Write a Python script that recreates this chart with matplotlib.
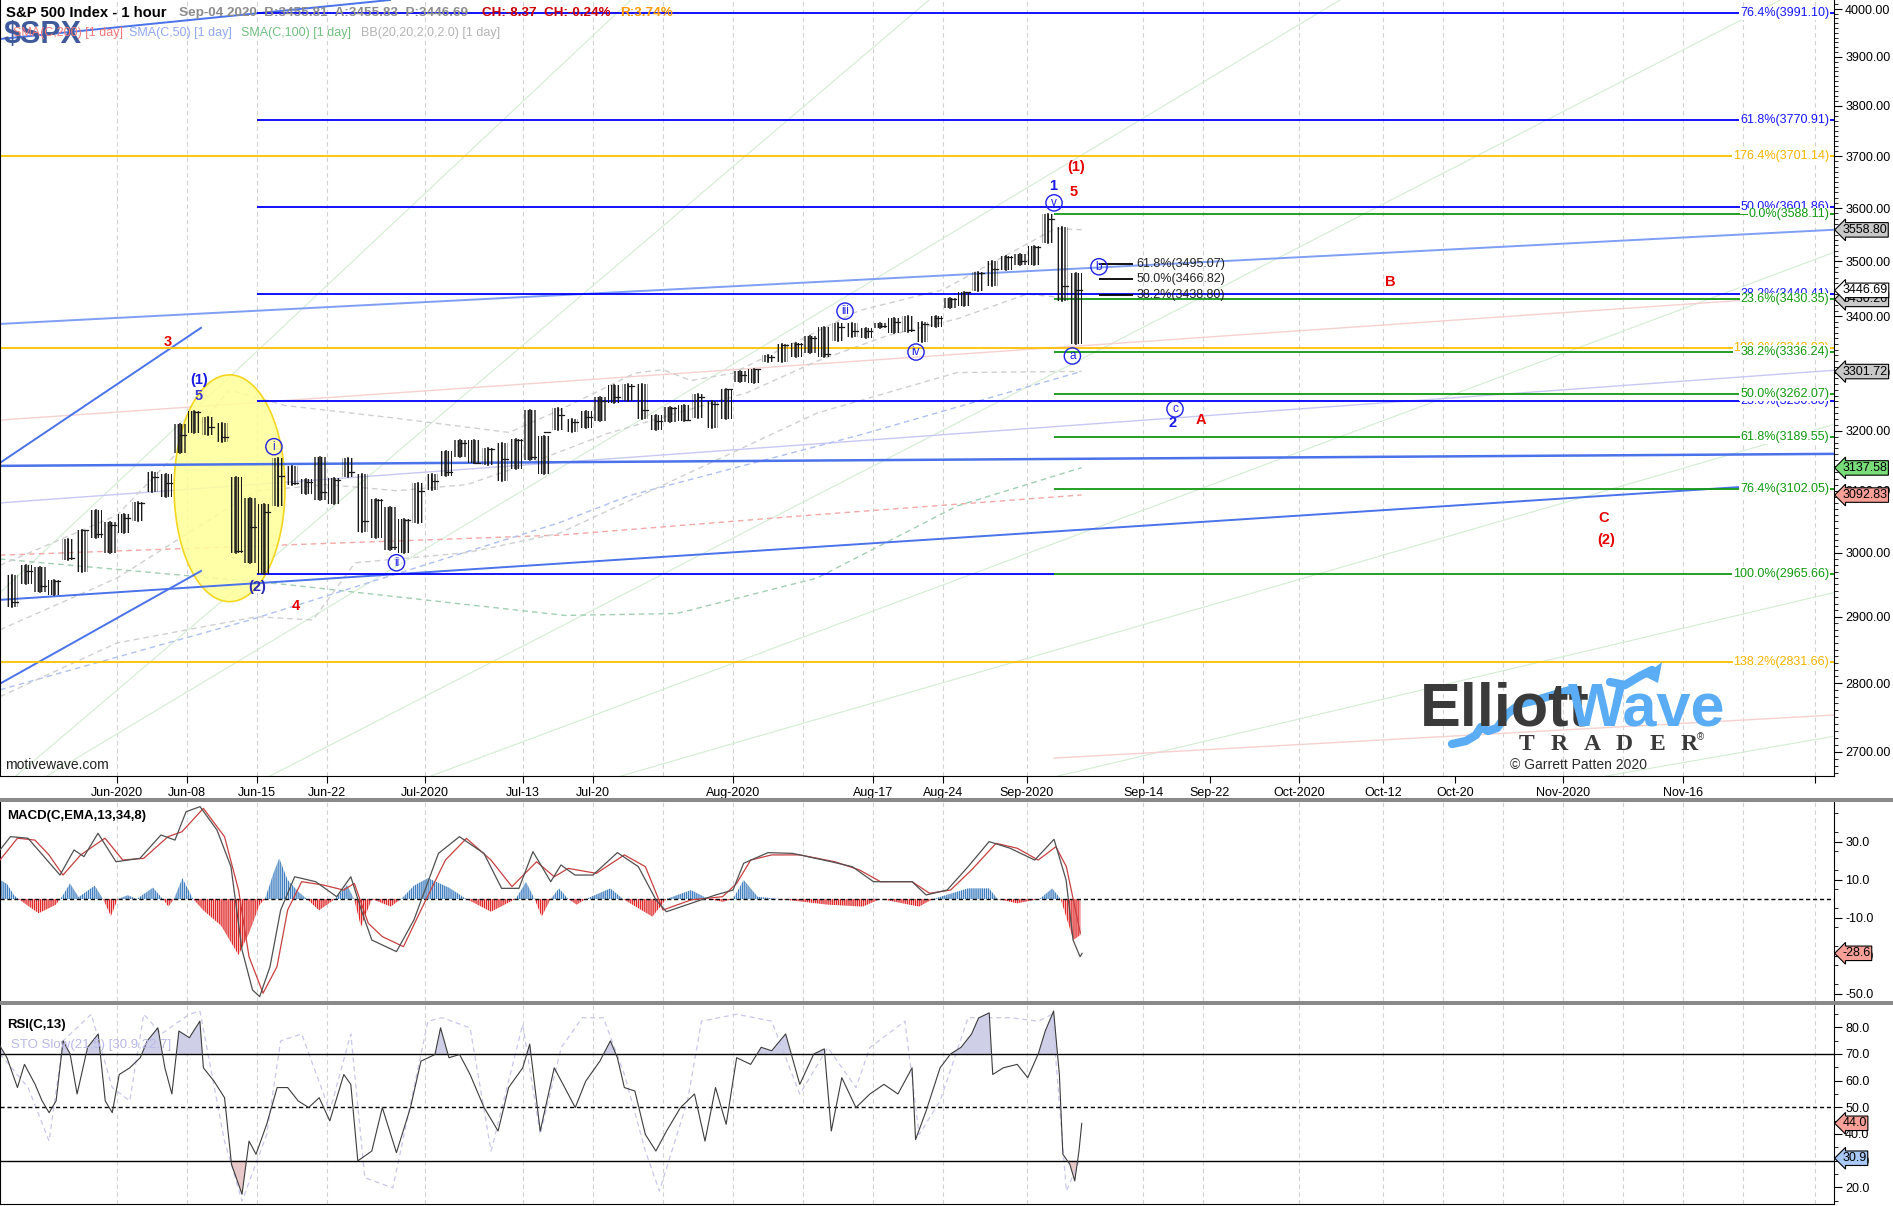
import numpy as np
import matplotlib
matplotlib.use("Agg")
import matplotlib.pyplot as plt
from matplotlib.transforms import blended_transform_factory
from matplotlib.ticker import FixedLocator, FixedFormatter
from matplotlib.patches import Rectangle
from matplotlib.lines import Line2D

plt.rcParams['font.family'] = ['Liberation Sans', 'DejaVu Sans']
plt.rcParams['hatch.linewidth'] = 1.0

W, H = 1893, 1206

# ---------------- price data (daily H/L/C, day index 0 = Jun 1 2020) ----------------
day = np.arange(-8, 69)
high = [2965, 2980, 2978, 2957, 3021, 3036, 3068, 3049,
        3062, 3081, 3130, 3128, 3211, 3233, 3223, 3213, 3123, 3088, 3079, 3154, 3141, 3120, 3156,
        3121, 3154, 3128, 3086, 3073, 3054, 3112, 3128, 3165, 3184, 3185, 3170, 3180, 3186, 3235,
        3191, 3238, 3220, 3233, 3258, 3278, 3280, 3280, 3227, 3241, 3243, 3262, 3251, 3272,
        3302, 3307, 3331, 3351, 3352, 3364, 3381, 3387, 3387, 3378, 3387, 3396, 3400, 3390, 3400,
        3432, 3444, 3481, 3501, 3510, 3514, 3528, 3588, 3564, 3479]
low = [2915, 2950, 2938, 2933, 2988, 2969, 3023, 2999,
       3031, 3051, 3098, 3090, 3163, 3196, 3193, 3181, 2999, 2984, 2966, 3075, 3109, 3094, 3084,
       3078, 3123, 3033, 3024, 3004, 3000, 3048, 3101, 3124, 3155, 3145, 3142, 3116, 3136, 3150,
       3127, 3201, 3198, 3205, 3216, 3247, 3250, 3220, 3201, 3214, 3217, 3222, 3205, 3220,
       3284, 3282, 3318, 3318, 3328, 3335, 3327, 3355, 3363, 3361, 3379, 3370, 3371, 3354, 3380,
       3414, 3419, 3445, 3454, 3484, 3494, 3494, 3535, 3427, 3350]
close = [2922, 2971, 2948, 2955, 2991, 3036, 3029, 3044,
         3055, 3080, 3122, 3112, 3193, 3232, 3207, 3190, 3002, 3041, 3066, 3125, 3113, 3115, 3098,
         3118, 3131, 3050, 3084, 3009, 3053, 3100, 3116, 3130, 3180, 3145, 3169, 3152, 3185, 3155,
         3197, 3227, 3215, 3224, 3251, 3257, 3276, 3236, 3216, 3239, 3218, 3258, 3246, 3271,
         3295, 3306, 3327, 3349, 3351, 3360, 3333, 3380, 3373, 3373, 3382, 3390, 3375, 3385, 3397,
         3431, 3443, 3479, 3485, 3508, 3500, 3527, 3580, 3455, 3447]

# moving averages / bands (day index, price)
sma200_t = [-8.36, 11.6, 31.6, 50, 68.9]
sma200_v = [2996, 3012, 3028, 3061, 3093]
sma100_t = [-8.36, 12, 32, 40, 50, 60, 68.9]
sma100_v = [2990, 2950, 2902, 2905, 2960, 3075, 3138]
sma50_t = [-8.36, 9.5, 31.6, 36.6, 53.1, 68.9]
sma50_v = [2790, 2895, 3048, 3092, 3193, 3302]
bbu_t = [-8.36, 0, 5, 8, 12, 20, 28, 31.6, 37, 39, 41, 44, 53, 59, 67, 68.9]
bbu_v = [2980, 3060, 3180, 3270, 3243, 3221, 3197, 3235, 3299, 3305, 3286, 3299, 3410, 3448, 3561, 3559]
bbm_t = [-8.36, 0, 5, 10, 15, 20, 25, 30, 35, 40, 45, 50, 55, 60, 65, 68.9]
bbm_v = [2880, 2960, 3030, 3100, 3110, 3100, 3110, 3150, 3195, 3230, 3265, 3320, 3365, 3395, 3440, 3430]
bbl_t = [-8.36, 0, 5, 10, 14, 17, 25, 31.6, 40, 50, 60, 68.9]
bbl_v = [2780, 2860, 2880, 2900, 2895, 2984, 3000, 3031, 3120, 3230, 3300, 3302]

# ---------------- MACD ----------------
macd_t = [-8.36, -7.61, -6.36, -4.07, -3.07, -2.36, -1.36, -0.07, 1.64, 3.14, 4.14, 4.93, 5.93, 7.14,
          8.14, 8.93, 9.68, 10.19, 10.93, 11.69, 12.69, 14.19, 15.69, 16.7, 17.45, 18.2, 19.96, 21.21,
          22.96, 24.46, 26.21, 27.47, 28.71, 29.71, 30.98, 31.71, 32.71, 33.99, 35.74, 37.24, 38.5,
          39.24, 41.0, 42.75, 44.0, 44.76, 46.5, 48.26, 51.02, 52.52, 54.03, 56.79, 57.79, 59.29,
          60.79, 62.29, 63.79, 65.55, 66.93, 67.79, 68.29, 68.79, 68.93]
macd_v = [25.8, 32.8, 32, 12.6, 25.8, 22.3, 34.6, 19.6, 21.4, 33.7, 31, 45.9, 48.6, 36.3, 17, -26.8,
          -47.9, -51.4, -35.6, -5.8, 11.7, 9.1, 1.2, 11.7, -5.8, -21.6, -27.7, -11, 24, 32.8, 24, 5.6,
          5.6, 24.9, 9.1, 17.9, 12.6, 12.6, 24.4, 17, -0.5, -6.7, -2.3, 2.1, 4.7, 18.8, 24.4, 24, 19.6,
          17, 9.1, 9.1, 2.1, 4.7, 17, 30.2, 26.7, 20.5, 31.4, 10, -21.6, -30.4, -28.6]
sig_t = [-8.36, -7.11, -5.86, -4.86, -3.86, -2.59, -0.86, 0.41, 1.91, 3.64, 4.64, 6.17, 7.68, 8.68,
         9.43, 10.43, 11.43, 12.19, 13.19, 14.69, 16.19, 16.95, 17.95, 18.95, 20.46, 21.71, 23.46,
         24.96, 26.71, 28.21, 29.97, 31.23, 32.23, 34.24, 36.24, 37.74, 39.0, 41.0, 43.25, 44.26,
         45.26, 46.76, 48.79, 51.27, 53.03, 54.53, 56.79, 58.04, 59.54, 61.04, 62.79, 64.3, 65.8,
         67.06, 67.81, 68.31, 68.81]
sig_v = [20.5, 32, 31, 23.2, 12.6, 23.2, 32, 20.5, 21.4, 32.8, 35.4, 47.7, 32.8, 4.7, -30.4, -49.6,
         -35.6, -5.8, 9.1, 7.4, 4.7, 8.2, -12.8, -19.8, -25.1, -5.8, 20.5, 31.9, 20.5, 6.5, 19.6, 11.7,
         16.1, 13.5, 23.2, 17, -5.8, -0.5, 1.2, 8.2, 20.5, 23.2, 23.2, 19.6, 15.3, 9.1, 9.1, 3, 4.7,
         15.3, 29.3, 26.7, 20.5, 27.5, 17, -0.5, -18]
hist_t = [-8.36, -7.86, -7.36, -6.86, -5.6, -4.36, -3.86, -3.36, -2.74, -2.36, -1.59, -1.0, -0.44,
          0.06, 0.76, 1.41, 2.57, 3.27, 3.67, 4.07, 4.67, 5.43, 6.17, 7.43, 8.68, 9.43, 10.19, 10.57,
          11.19, 11.59, 12.19, 12.93, 13.57, 14.43, 15.57, 16.43, 16.93, 17.43, 18.2, 19.55, 20.3,
          21.21, 22.21, 23.71, 24.96, 26.71, 28.47, 29.21, 29.83, 30.33, 30.98, 31.57, 32.23, 32.83,
          33.49, 35.24, 36.14, 38.24, 39.24, 41.0, 42.25, 43.26, 44.0, 44.76, 45.76, 47.26, 50.77,
          53.27, 54.53, 57.29, 58.29, 60.79, 62.29, 62.89, 64.3, 65.9, 66.8, 67.4, 68.31, 68.81]
hist_v = [10, 8, 2, -1, -7.5, -3, 2, 8.2, 1, 3, 7, 0, -9, 0, 2, 0, 6, 0, -4, 0, 11, 0, -6, -14, -29.5,
          -18, -3, 0, 14, 21.4, 10, 4, 0, -6, 0, 7.4, 0, -14.6, 0, -4, 0, 7, 11, 6, 0, -6.7, 0, 9, 0,
          -9.3, 0, 5.6, 0, -3, 0, 5.6, 0, -9.3, 0, 4.7, 0, -1.5, 0, 10, 1.2, 0, -3, -4, 0, -4, 0, 5.6,
          5.6, 0, -2.3, 0, 5.6, 0, -21.6, -19]

# ---------------- RSI / Stochastic ----------------
rsi_t = [-8.36, -7.86, -7.11, -6.61, -5.85, -5.35, -4.85, -4.35, -3.85, -3.35, -2.85, -2.10, -1.34,
         -0.84, -0.34, 0.16, 0.91, 1.66, 2.16, 2.92, 3.42, 3.92, 4.42, 5.17, 5.92, 6.17, 6.93, 7.68,
         8.18, 8.93, 9.43, 9.93, 10.69, 11.44, 12.19, 12.94, 13.69, 14.44, 15.20, 16.20, 16.70, 17.20,
         18.20, 18.95, 19.96, 20.96, 21.71, 22.71, 23.11, 23.71, 24.47, 25.22, 26.22, 27.22, 27.97,
         28.98, 29.48, 30.23, 31.23, 31.98, 32.73, 33.48, 34.49, 35.24, 35.74, 36.24, 36.99, 37.74,
         38.49, 39.25, 40.25, 41.25, 42.00, 42.75, 43.51, 44.26, 45.26, 46.01, 46.76, 47.76, 48.77,
         49.77, 50.52, 51.02, 51.77, 52.78, 53.78, 54.78, 55.78, 56.79, 57.04, 57.79, 58.79, 59.54,
         60.29, 61.04, 61.54, 62.30, 62.55, 63.30, 64.30, 65.05, 65.80, 66.30, 66.90, 67.31, 67.56,
         68.06, 68.41, 68.71, 68.91]
rsi_v = [73, 68.6, 57.4, 66.1, 58.6, 52.4, 48, 52.4, 74.9, 70, 55, 72.5, 77.5, 52.4, 48, 62.3, 64.8,
         68.6, 74.9, 79.8, 64.8, 55, 78.6, 76.1, 82.3, 64.8, 59.8, 53.6, 28.6, 17.4, 37.3, 32.4, 43.6,
         57.4, 57.4, 52.4, 49.9, 53.6, 44.9, 62.3, 58.6, 29.9, 33.6, 49.9, 33, 49.9, 67.3, 69.8, 79.8,
         68.6, 69.8, 62.3, 49.9, 41.1, 57.4, 64.8, 73.7, 41.1, 64.8, 57.4, 49.9, 59.8, 67.3, 74.9, 68.6,
         57.4, 56.1, 39.8, 33.6, 41.1, 49.9, 55, 37.3, 57.4, 43.6, 68.6, 66.1, 72.5, 71.2, 77.5, 58.6,
         70, 71.9, 41.1, 61.1, 49.9, 55, 58.6, 55, 64.8, 37.9, 48.6, 64.8, 70, 72.5, 77.5, 83.5, 85.4,
         62.3, 64.8, 66.1, 61.1, 70, 78.6, 86.1, 62.3, 32.4, 28.6, 22.4, 33.6, 44]
sto_t = [-8.36, -6.35, -4.85, -3.85, -1.84, -0.34, 0.91, 1.91, 3.17, 5.17, 5.92, 7.68, 8.93, 10.69,
         11.69, 13.19, 15.20, 16.70, 17.70, 19.70, 20.71, 22.21, 23.21, 25.22, 26.72, 28.98, 30.23,
         31.73, 33.23, 34.74, 36.24, 37.74, 38.74, 40.75, 41.75, 44.26, 46.76, 48.77, 50.77, 52.78,
         53.78, 56.28, 57.29, 58.79, 60.79, 63.80, 65.80, 66.80, 67.81, 68.81]
sto_v = [70, 57.4, 37.3, 74.9, 84.9, 57.4, 52.4, 84.9, 77.5, 84.9, 86.1, 37.3, 14.8, 39.8, 74.9, 77.5,
         48.6, 77.5, 23.6, 19.8, 44.9, 82.3, 83.6, 79.8, 33.6, 81.1, 39.8, 72.4, 83.6, 83.6, 62.3, 33.6,
         18.6, 52.4, 82.3, 84.9, 82.3, 54.9, 72.4, 57.4, 72.4, 82.3, 39.8, 52.4, 83.6, 83.6, 82.3, 84.9,
         18.6, 30.9]

# ---------------- axis ticks ----------------
tick_pos = [0, 5, 10, 15, 22, 29, 34, 44, 54, 59, 65, 73.29, 78.07, 84.43, 90.43, 95.57, 103.29,
            111.86, 121.29]
tick_lab = ['Jun-2020', 'Jun-08', 'Jun-15', 'Jun-22', 'Jul-2020', 'Jul-13', 'Jul-20', 'Aug-2020',
            'Aug-17', 'Aug-24', 'Sep-2020', 'Sep-14', 'Sep-22', 'Oct-2020', 'Oct-12', 'Oct-20',
            'Nov-2020', 'Nov-16', '']
grid_pos = [0, 5, 10, 15, 22, 29, 34, 39, 44, 49, 54, 59, 65, 73.29, 77.57, 84.43, 90.43, 94.71,
            99.0, 103.29, 107.57, 111.86, 116.14, 121.29]
XMIN, XMAX = -8.357, 122.64

# ---------------- fibonacci levels ----------------
blue_fib_lab = ['76.4%(3991.10)', '61.8%(3770.91)', '50.0%(3601.86)', '38.2%(3440.41)', '23.6%(3250.80)']
blue_fib_val = [3991.10, 3770.91, 3601.86, 3440.41, 3250.80]
orange_fib_lab = ['176.4%(3701.14)', '100.0%(3343.02)', '138.2%(2831.66)']
orange_fib_val = [3701.14, 3343.02, 2831.66]
green_fib_lab = ['0.0%(3588.11)', '23.6%(3430.35)', '38.2%(3336.24)', '50.0%(3262.07)',
                 '61.8%(3189.55)', '76.4%(3102.05)', '100.0%(2965.66)']
green_fib_val = [3588.11, 3430.35, 3336.24, 3262.07, 3189.55, 3102.05, 2965.66]
b_fib_lab = ['61.8%(3495.07)', '50.0%(3466.82)', '38.2%(3438.80)']
b_fib_val = [3495.07, 3466.82, 3438.80]

# ---------------- figure ----------------
fig = plt.figure(figsize=(W / 100, H / 100), dpi=100)


def frac(x0, y0, x1, y1):
    return [x0 / W, 1 - y1 / H, (x1 - x0) / W, (y1 - y0) / H]


ax = fig.add_axes(frac(0, 0, 1834, 776))
axm = fig.add_axes(frac(0, 802, 1834, 1001))
axr = fig.add_axes(frac(0, 1005, 1834, 1204))

for a in (ax, axm, axr):
    a.set_xlim(XMIN, XMAX)
    for g in grid_pos:
        a.axvline(g, color='#d2d2d2', lw=0.8, ls=(0, (4, 3)), zorder=0)
    for s in ('top', 'bottom', 'left', 'right'):
        a.spines[s].set_color('black')
    a.spines['top'].set_visible(False)

# separators
for y0 in (798, 1001):
    fig.patches.append(Rectangle((0, 1 - (y0 + 4) / H), 1, 4 / H, transform=fig.transFigure,
                                 facecolor='#8a8a8a', edgecolor='none', zorder=10))

# ---- main panel ----
ax.set_yscale('log')
ax.set_ylim(2665.6, 4019.1)
majors = list(range(2700, 4001, 100))
ax.yaxis.set_major_locator(FixedLocator(majors))
ax.yaxis.set_major_formatter(FixedFormatter(['%.2f' % v for v in majors]))
ax.yaxis.set_minor_locator(FixedLocator([v for v in range(2670, 4020, 10) if v % 100]))
ax.yaxis.set_minor_formatter(FixedFormatter([]))
ax.yaxis.tick_right()
ax.tick_params(axis='y', which='major', direction='out', length=6, labelsize=9, pad=2)
ax.tick_params(axis='y', which='minor', direction='out', length=3)
ax.set_xticks(tick_pos)
ax.set_xticklabels(tick_lab, fontsize=9)
ax.tick_params(axis='x', direction='out', length=5, pad=3)

# faint green fan lines
fan = [((-8.36, 2937), (36.7, 4019.1)), ((-7.21, 2665.6), (58.0, 4019.1)),
       ((-5.0, 2665.6), (87.36, 4019.1)), ((10.93, 2665.6), (118.8, 4019.1)),
       ((22.43, 2665.6), (122.57, 3516)), ((36.0, 2665.6), (122.57, 3210)),
       ((67.21, 2665.6), (122.57, 2937)), ((106.36, 2665.6), (122.57, 2722))]
for (x0, y0), (x1, y1) in fan:
    ax.plot([x0, x1], [y0, y1], color='#d3edd3', lw=0.8, zorder=1)
# faint channel lines
ax.plot([-8.36, 122.64], [3080, 3304], color='#c8c8f2', lw=1.0, zorder=1)
ax.plot([-8.36, 122.64], [3218, 3440], color='#f7d0d0', lw=1.0, zorder=1)
ax.plot([66.93, 122.64], [2691, 2753], color='#f7d0d0', lw=1.0, zorder=1)
# moving averages / bands
ax.plot(sma200_t, sma200_v, color='#f4a8a8', lw=1.0, ls=(0, (4, 3)), zorder=1)
ax.plot(sma100_t, sma100_v, color='#a0d0b4', lw=1.0, ls=(0, (4, 3)), zorder=1)
ax.plot(sma50_t, sma50_v, color='#b0c0f2', lw=1.0, ls=(0, (4, 3)), zorder=1)
for t, v in ((bbu_t, bbu_v), (bbm_t, bbm_v), (bbl_t, bbl_v)):
    ax.plot(t, v, color='#d0d0d0', lw=1.0, ls=(0, (4, 3)), zorder=1)

# blue trend lines
ax.plot([-8.36, 122.64], [3386, 3559], color='#7f9ff5', lw=1.4, zorder=2)
ax.plot([-8.36, 6.0], [3146, 3379], color='#4a72ea', lw=1.4, zorder=2)
ax.plot([-8.36, 6.0], [2799, 2971], color='#4a72ea', lw=1.4, zorder=2)
ax.plot([-8.36, 122.64], [3141, 3161], color='#4a72ea', lw=1.8, zorder=2)
ax.plot([-8.36, 115.9], [2926, 3106], color='#4a72ea', lw=1.4, zorder=2)
ax.plot([-8.36, 19.5], [3937, 4019.1], color='#4a72ea', lw=1.4, zorder=2)

# yellow ellipse around the (1)-(2) area
th = np.linspace(0, 2 * np.pi, 200)
ax.fill(8.04 + 3.96 * np.cos(th), 3104 * np.exp(0.060 * np.sin(th)), facecolor='#ffff99',
        edgecolor='#f2cf00', lw=1.2, alpha=0.85, zorder=1.5)

# fib lines
tb = blended_transform_factory(ax.transAxes, ax.transData)
lab_box = dict(boxstyle='square,pad=0.05', fc='white', ec='none')
for v, lab in zip(blue_fib_val, blue_fib_lab):
    ax.hlines(v, 10, XMAX, color='#0000ff', lw=1.3, zorder=2)
    ax.text(0.9973, v, lab, transform=tb, ha='right', va='center', color='#1515ff', fontsize=9,
            bbox=lab_box, zorder=5)
ax.hlines(2965.66, 10, 66.93, color='#0000ff', lw=1.3, zorder=2)
for v, lab in zip(orange_fib_val, orange_fib_lab):
    ax.hlines(v, XMIN, XMAX, color='#ffc000', lw=1.3, zorder=2)
    ax.text(0.9973, v, lab, transform=tb, ha='right', va='center', color='#f5b400', fontsize=9,
            bbox=lab_box, zorder=6)
for v, lab in zip(green_fib_val, green_fib_lab):
    ax.hlines(v, 66.93, XMAX, color='#119911', lw=1.3, zorder=2)
    ax.text(0.9973, v, lab, transform=tb, ha='right', va='center', color='#119911', fontsize=9,
            bbox=lab_box, zorder=7)
for v, lab in zip(b_fib_val, b_fib_lab):
    ax.hlines(v, 70.14, 72.57, color='black', lw=1.3, zorder=2)
    ax.text(72.8, v, lab, ha='left', va='center', color='#222222', fontsize=9, zorder=5)

# price bars: each trading day drawn as a cluster of thin vertical strokes over its range
for d, lo, hi, c in zip(day, low, high, close):
    ax.add_patch(Rectangle((d + 0.1, lo), 0.8, hi - lo, facecolor='none', edgecolor='#1a1a1a',
                           hatch='|' * 5, lw=0, zorder=3))
    ax.plot([d + 0.5, d + 0.5], [lo, hi], color='#1a1a1a', lw=1.2, zorder=3)
    ax.plot([d + 0.5, d + 0.9], [c, c], color='#1a1a1a', lw=0.9, zorder=3)

# wave labels
RED, BLUE = '#e60000', '#1a1ae6'
plain = [(3.64, 3354, '3', RED), (12.79, 2917, '4', RED), (5.86, 3287, '(1)', BLUE),
         (5.86, 3259, '5', '#3a3ad0'), (10.0, 2946, '(2)', '#2a2ab0'), (66.86, 3642, '1', BLUE),
         (68.36, 3631, '5', RED), (68.5, 3679, '(1)', RED), (75.43, 3213, '2', BLUE),
         (77.43, 3218, 'A', RED), (90.93, 3462, 'B', RED), (106.21, 3056, 'C', RED),
         (106.36, 3020, '(2)', RED)]
for x, y, s, c in plain:
    ax.text(x, y, s, ha='center', va='center', color=c, fontsize=10.5, fontweight='bold', zorder=8)
circ = [(11.21, 3173, 'i'), (19.96, 2984, 'ii'), (52.0, 3409, 'iii'), (57.07, 3336, 'iv'),
        (66.93, 3610, 'v'), (68.24, 3329, 'a'), (70.14, 3490, 'b'), (75.57, 3237, 'c')]
for x, y, s in circ:
    ax.text(x, y, s, ha='center', va='center', color='#2020e8', fontsize=8.5, zorder=8,
            bbox=dict(boxstyle='circle,pad=0.18', fc='none', ec='#2020e8', lw=1.0))


def tag(a, val, txt, fc):
    a.text(1.0045, val, txt, transform=blended_transform_factory(a.transAxes, a.transData),
           ha='left', va='center', fontsize=9, zorder=20, clip_on=False,
           bbox=dict(boxstyle='larrow,pad=0.1', fc=fc, ec='black', lw=0.8))


tag(ax, 3558.80, '3558.80', '#c8c8c8')
tag(ax, 3430.26, '3430.26', '#c8c8c8')
tag(ax, 3446.69, '3446.69', 'white')
tag(ax, 3301.72, '3301.72', '#c8c8c8')
tag(ax, 3137.58, '3137.58', '#78dc78')
tag(ax, 3092.83, '3092.83', '#f8a098')

# ---- MACD panel ----
axm.set_ylim(-53.7, 51.05)
axm.yaxis.tick_right()
axm.set_yticks([30, 10, -10, -30, -50])
axm.set_yticklabels(['30.0', '10.0', '-10.0', '-30.0', '-50.0'])
axm.yaxis.set_minor_locator(FixedLocator([v for v in range(-50, 51, 5) if v % 10]))
axm.tick_params(axis='y', which='major', direction='out', length=6, labelsize=9, pad=2)
axm.tick_params(axis='y', which='minor', direction='out', length=3)
axm.set_xticks([])
axm.spines['bottom'].set_visible(False)
ht = np.array(hist_t)
hv = np.array(hist_v)
axm.fill_between(ht, 0, hv, where=hv >= 0, interpolate=True, facecolor='none', edgecolor='#3f7fc0',
                 hatch='|' * 8, lw=0, zorder=2)
axm.fill_between(ht, 0, hv, where=hv <= 0, interpolate=True, facecolor='none', edgecolor='#e02828',
                 hatch='|' * 8, lw=0, zorder=2)
axm.axhline(0, color='black', lw=1.0, ls=(0, (3, 2)), zorder=3)
axm.plot(sig_t, sig_v, color='#c84040', lw=0.9, zorder=4)
axm.plot(macd_t, macd_v, color='#505050', lw=0.9, zorder=4)
axm.text(0.004, 0.93, 'MACD(C,EMA,13,34,8)', transform=axm.transAxes, fontsize=9.5,
         fontweight='bold', va='center', zorder=6)
tag(axm, -28.6, '-28.6', '#f8a098')

# ---- RSI panel ----
axr.set_ylim(13.74, 88.36)
axr.yaxis.tick_right()
axr.set_yticks([20, 30, 40, 50, 60, 70, 80])
axr.set_yticklabels(['20.0', '30.0', '40.0', '50.0', '60.0', '70.0', '80.0'])
axr.yaxis.set_minor_locator(FixedLocator([15, 25, 35, 45, 55, 65, 75, 85]))
axr.tick_params(axis='y', which='major', direction='out', length=6, labelsize=9, pad=2)
axr.tick_params(axis='y', which='minor', direction='out', length=3)
axr.set_xticks([])
rt = np.array(rsi_t)
rv = np.array(rsi_v)
axr.fill_between(rt, 70, rv, where=rv >= 70, interpolate=True, color='#cfd0e8', lw=0, zorder=1)
axr.fill_between(rt, 30, rv, where=rv <= 30, interpolate=True, color='#e8c8c8', lw=0, zorder=1)
axr.plot(sto_t, sto_v, color='#c8c8ec', lw=0.9, ls=(0, (4, 3)), zorder=2)
axr.axhline(70, color='black', lw=1.0, zorder=3)
axr.axhline(30, color='black', lw=1.0, zorder=3)
axr.axhline(50, color='black', lw=1.0, ls=(0, (3, 2)), zorder=3)
axr.plot(rt, rv, color='#3c3c3c', lw=0.8, zorder=4)
axr.text(0.004, 0.9, 'RSI(C,13)', transform=axr.transAxes, fontsize=9.5, fontweight='bold',
         va='center', zorder=6)
axr.text(0.006, 0.80, 'STO Slow(21,5) [30.9,22.7]', transform=axr.transAxes, fontsize=9.5,
         color='#b8b8e8', va='center', zorder=6)
tag(axr, 44.0, '44.0', '#f8a098')
tag(axr, 30.9, '30.9', '#a8c8f8')

# ---- header texts ----


def ftext(x, y, s, **kw):
    fig.text(x / W, 1 - y / H, s, **kw)


ftext(4, 35, '$SPX', fontsize=22, fontweight='bold', color='#3e5a9c', va='center', zorder=30)
ftext(6, 13, 'S&P 500 Index - 1 hour', fontsize=10.7, fontweight='bold', va='center', zorder=31)
ftext(179, 13, 'Sep-04 2020  B:3455.81  A:3455.83  P:3446.69', fontsize=9.7, fontweight='bold',
      color='#8c8c8c', va='center', zorder=31)
ftext(482, 13, 'CH:-8.37  CH:-0.24%', fontsize=9.7, fontweight='bold', color='#cc0000',
      va='center', zorder=31)
ftext(620, 13, 'R:3.74%', fontsize=9.7, fontweight='bold', color='#ff9900', va='center', zorder=31)
legend_items = [(13, 'SMA(C,200) [1 day]', '#f07878'), (129, 'SMA(C,50) [1 day]', '#90a8f0'),
                (241, 'SMA(C,100) [1 day]', '#70c080'), (361, 'BB(20,20,2.0,2.0) [1 day]', '#b4b4b4')]
for x, s, c in legend_items:
    ftext(x, 33, s, fontsize=9, color=c, va='center', zorder=32)
ftext(5, 765, 'motivewave.com', fontsize=10, color='#202020', va='center', zorder=31)

# ---- logo ----
wave_px = [(1452, 744), (1466, 741), (1476, 735), (1481, 727), (1488, 731), (1497, 728),
           (1507, 714), (1520, 704), (1537, 700), (1553, 695), (1570, 690)]
fig.lines.append(Line2D([p[0] / W for p in wave_px], [1 - p[1] / H for p in wave_px],
                        transform=fig.transFigure, color='#5aacf5', lw=6, solid_capstyle='round',
                        solid_joinstyle='round', zorder=29))
tail_px = [(1610, 682), (1625, 685), (1640, 676), (1652, 670)]
fig.lines.append(Line2D([p[0] / W for p in tail_px], [1 - p[1] / H for p in tail_px],
                        transform=fig.transFigure, color='#5aacf5', lw=6, solid_capstyle='round',
                        zorder=29))
fig.patches.append(plt.Polygon([(1644 / W, 1 - 676 / H), (1662 / W, 1 - 662 / H),
                                (1658 / W, 1 - 683 / H)], closed=True, transform=fig.transFigure,
                               facecolor='#5aacf5', edgecolor='none', zorder=29))
ftext(1420, 725, 'Elliott', fontsize=44, fontweight='bold', color='#3a3a3a', va='baseline',
      family=['Liberation Sans Narrow', 'Liberation Sans'], zorder=30)
ftext(1568, 725, 'Wave', fontsize=44, fontweight='bold', color='#5aacf5', va='baseline',
      family=['Liberation Sans Narrow', 'Liberation Sans'], zorder=30)
for i, ch in enumerate('TRADER'):
    ftext(1527 + i * 32.5, 750, ch, fontsize=17, fontweight='bold', color='#3a3a3a', ha='center',
          va='baseline', family=['Liberation Serif', 'DejaVu Serif'], zorder=30)
ftext(1697, 737, '®', fontsize=7, color='#3a3a3a', va='center', zorder=30)
ftext(1510, 765, '© Garrett Patten 2020', fontsize=10, color='#2a2a2a', va='center', zorder=30)

fig.savefig('out.png', dpi=100)
